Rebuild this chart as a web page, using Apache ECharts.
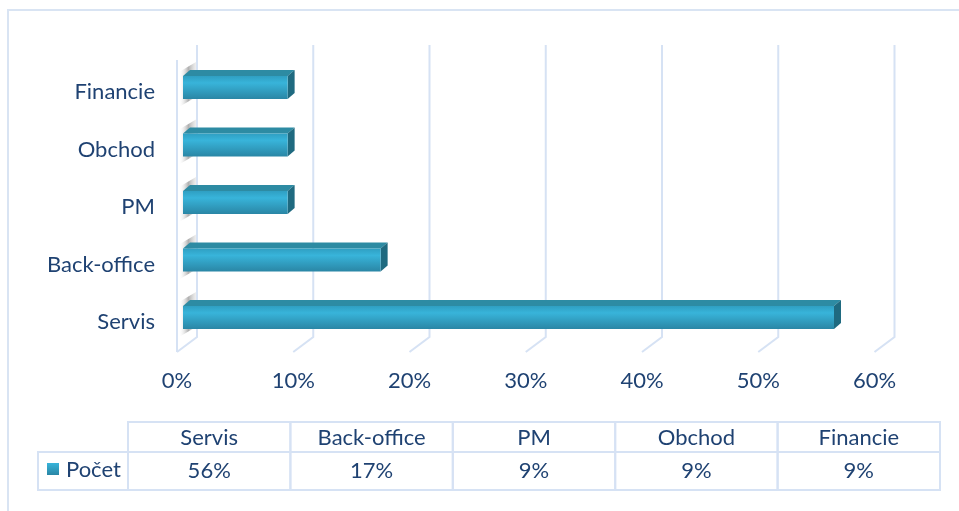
<!DOCTYPE html>
<html>
<head>
<meta charset="utf-8">
<script src="https://cdn.jsdelivr.net/npm/echarts@6/dist/echarts.min.js"></script>
<style>html,body{margin:0;padding:0;background:#fff}#c{width:959px;height:511px}</style>
</head>
<body>
<div id="c"></div>
<script>
const categories = ['Servis', 'Back-office', 'PM', 'Obchod', 'Financie'];
const values = [56, 17, 9, 9, 9];
const tickValues = [0, 10, 20, 30, 40, 50, 60];
const seriesName = 'Počet';

const FONT = 'Lato';
const FS = 22;
const TXT = '#1f4272';
const GRIDC = '#d6e2f4';
const DX = 7, DY = -6, BH = 23, BOFF = -4.5;

const chart = echarts.init(document.getElementById('c'));

const frontGrad = new echarts.graphic.LinearGradient(0, 0, 0, 1, [
  {offset: 0, color: '#2f9fc2'},
  {offset: 0.3, color: '#38b4da'},
  {offset: 1, color: '#2a86a5'}
]);

const option = {
  animation: false,
  backgroundColor: '#fff',
  graphic: [
    {type: 'rect', shape: {x: 8, y: 10, width: 1000, height: 600}, style: {fill: 'none', stroke: '#d9e4f3', lineWidth: 2}, z: 0},
    {type: 'rect', shape: {x: 47, y: 463, width: 12, height: 12},
      style: {fill: new echarts.graphic.LinearGradient(0, 0, 0, 1, [{offset: 0, color: '#38b4da'}, {offset: 1, color: '#2a86a5'}])}, z: 10},
    {type: 'text', x: 66, y: 470, style: {text: seriesName, fill: TXT, font: FS + 'px ' + FONT, verticalAlign: 'middle', align: 'left'}, z: 10}
  ],
  grid: [
    {left: 183, right: 78.5, top: 63.25, height: 287.5, containLabel: false},
    {left: 128, right: 19, top: 422, height: 68}
  ],
  xAxis: [
    {type: 'value', gridIndex: 0, min: 0, max: 60, interval: 10,
      axisLine: {show: false}, axisTick: {show: false}, splitLine: {show: false},
      axisLabel: {formatter: '{value}%', color: TXT, fontFamily: FONT, fontSize: FS, margin: 19, padding: [0, 12, 0, 0]}},
    {type: 'category', gridIndex: 1, data: categories, show: false}
  ],
  yAxis: [
    {type: 'category', gridIndex: 0, data: categories,
      axisLine: {show: false}, axisTick: {show: false}, splitLine: {show: false},
      axisLabel: {color: TXT, fontFamily: FONT, fontSize: FS, margin: 28}},
    {type: 'value', gridIndex: 1, min: 0, max: 1, show: false}
  ],
  series: [
    {
      type: 'custom', xAxisIndex: 0, yAxisIndex: 0, z: 1, silent: true,
      data: tickValues.map(v => [v, 0]),
      renderItem: function (params, api) {
        const cx = api.coord([api.value(0), 0])[0];
        const children = [{
          type: 'polyline',
          shape: {points: [[cx + 14, 45], [cx + 14, 337], [cx - 6, 352]]},
          style: {stroke: GRIDC, lineWidth: 2, fill: 'none'}
        }];
        if (api.value(0) === 0) {
          children.push({
            type: 'polyline',
            shape: {points: [[cx - 6, 60], [cx - 6, 352]]},
            style: {stroke: GRIDC, lineWidth: 2, fill: 'none'}
          });
        }
        return {type: 'group', children: children};
      }
    },
    {
      type: 'custom', name: seriesName, xAxisIndex: 0, yAxisIndex: 0, z: 3,
      data: values.map((v, i) => [v, i]),
      encode: {x: 0, y: 1},
      renderItem: function (params, api) {
        const v = api.value(0), c = api.value(1);
        const p0 = api.coord([0, c]);
        const p1 = api.coord([v, c]);
        const x0 = p0[0], x1 = p1[0];
        const y0 = p0[1] + BOFF - BH / 2, y1 = y0 + BH;
        return {
          type: 'group',
          children: [
            {
              type: 'polygon',
              shape: {points: [[x0 - 4, y0 - 4], [x0 + 13, y0 - 14], [x0 + 13, y1 - 2], [x0 - 4, y1 + 8]]},
              style: {fill: new echarts.graphic.LinearGradient(0, 0, 1, 0, [
                {offset: 0, color: 'rgba(255,255,255,0)'},
                {offset: 0.55, color: 'rgba(110,110,110,0.55)'},
                {offset: 1, color: 'rgba(190,190,190,0.25)'}
              ])}
            },
            {
              type: 'polygon',
              shape: {points: [[x0, y0], [x0 + DX, y0 + DY], [x1 + DX, y0 + DY], [x1, y0]]},
              style: {fill: '#2d8ba3'}
            },
            {
              type: 'polygon',
              shape: {points: [[x1, y0], [x1 + DX, y0 + DY], [x1 + DX, y1 + DY], [x1, y1]]},
              style: {fill: '#1f6a80'}
            },
            {
              type: 'rect',
              shape: {x: x0, y: y0, width: x1 - x0, height: BH},
              style: {fill: frontGrad}
            }
          ]
        };
      }
    },
    {
      type: 'custom', xAxisIndex: 1, yAxisIndex: 1, z: 5, silent: true,
      data: values.map((v, i) => [i, v]),
      renderItem: function (params, api) {
        const i = api.value(0), v = api.value(1);
        const cx = api.coord([i, 0])[0];
        const w = api.size([1, 0])[0];
        const top = 422, mid = 452, bot = 490;
        const children = [
          {type: 'rect', shape: {x: cx - w / 2, y: top, width: w, height: mid - top}, style: {fill: 'none', stroke: GRIDC, lineWidth: 2}},
          {type: 'rect', shape: {x: cx - w / 2, y: mid, width: w, height: bot - mid}, style: {fill: 'none', stroke: GRIDC, lineWidth: 2}},
          {type: 'text', x: cx, y: (top + mid) / 2 + 1, style: {text: categories[i], fill: TXT, font: FS + 'px ' + FONT, align: 'center', verticalAlign: 'middle'}},
          {type: 'text', x: cx, y: (mid + bot) / 2, style: {text: v + '%', fill: TXT, font: FS + 'px ' + FONT, align: 'center', verticalAlign: 'middle'}}
        ];
        if (i === 0) {
          children.push({type: 'rect', shape: {x: 38, y: mid, width: cx - w / 2 - 38, height: bot - mid}, style: {fill: 'none', stroke: GRIDC, lineWidth: 2}});
        }
        return {type: 'group', children: children};
      }
    }
  ]
};
chart.setOption(option);
</script>
</body>
</html>
